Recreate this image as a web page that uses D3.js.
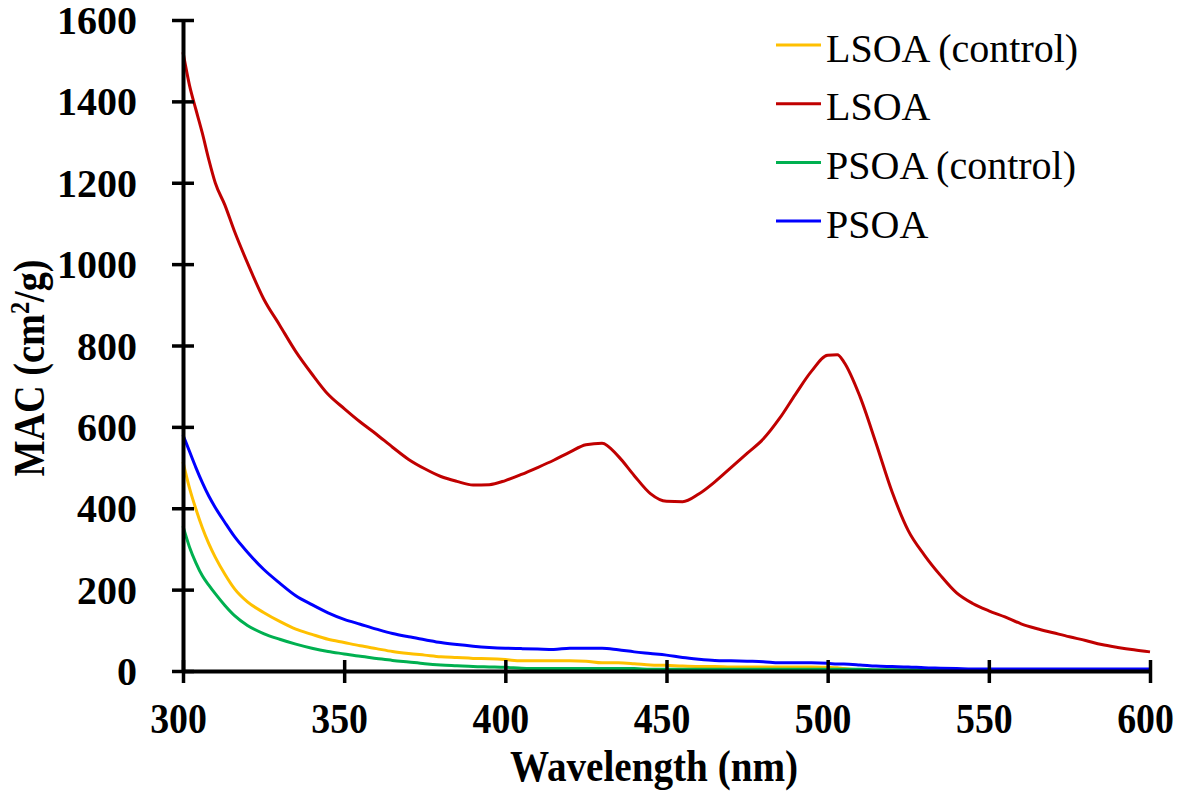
<!DOCTYPE html>
<html>
<head>
<meta charset="utf-8">
<script src="https://cdn.jsdelivr.net/npm/d3@7"></script>
<style>
  html, body { margin: 0; padding: 0; background: #fff; }
  svg { display: block; }
</style>
</head>
<body>
<svg id="chart" width="1185" height="792"></svg>
<script>
// wavelength grid (nm), shared by all four series
const WAVELENGTHS = [300, 302, 304, 306, 308, 310, 313, 316, 320, 325, 330, 335, 340, 345, 350,
  355, 360, 365, 370, 375, 380, 385, 390, 395, 400, 405, 410, 415, 420, 425, 430, 435, 440,
  445, 450, 455, 460, 465, 470, 475, 480, 485, 490, 495, 500, 503, 505, 510, 515, 520, 525,
  530, 535, 540, 545, 550, 555, 560, 565, 570, 575, 580, 585, 590, 595, 600]

// MAC values (cm2/g)
const LSOA_CONTROL = [514, 450, 398, 352, 313, 280, 238, 202, 170, 144, 122, 103, 90, 78, 70,
  62, 55, 48, 43, 39, 35, 33, 31, 30, 28, 25, 25, 25, 25, 24, 20, 20, 18,
  15, 14, 12, 11, 11, 10, 10, 10, 10, 10, 10, 9, 8, 6, 3, 2, 2, 2,
  2, 2, 2, 2, 2, 2, 2, 2, 2, 2, 1, 1, 1, 1, 1]
const LSOA = [1521, 1440, 1380, 1322, 1257, 1200, 1145, 1080, 1003, 915, 850, 785, 730, 680, 645,
  612, 582, 550, 520, 497, 478, 466, 457, 458, 468, 483, 500, 518, 538, 556, 560, 528, 480,
  436, 417, 416, 435, 465, 500, 535, 570, 620, 680, 737, 776, 777, 760, 675, 560, 440, 345,
  285, 235, 192, 166, 148, 133, 116, 104, 94, 84, 75, 65, 58, 52, 47]
const PSOA_CONTROL = [356, 305, 266, 234, 211, 190, 161, 136, 112, 92, 78, 66, 56, 48, 42,
  36, 31, 26, 22, 18, 15, 13, 11, 10, 9, 7, 6, 6, 6, 6, 6, 6, 6,
  4, 4, 4, 4, 4, 4, 4, 4, 4, 4, 4, 4, 4, 4, 4, 3, 3, 3,
  3, 3, 3, 3, 2, 2, 2, 2, 2, 2, 2, 2, 2, 2, 2]
const PSOA = [580, 540, 500, 463, 430, 402, 365, 330, 292, 250, 216, 185, 163, 143, 127,
  115, 103, 92, 84, 77, 70, 65, 61, 58, 56, 55, 54, 53, 56, 56, 56, 52, 47,
  43, 39, 33, 29, 26, 25, 24, 23, 20, 20, 20, 19, 17, 17, 15, 12, 11, 10,
  8, 7, 6, 5, 5, 5, 5, 5, 5, 5, 5, 5, 5, 5, 5]

const SERIES_NAMES = ["LSOA (control)", "LSOA", "PSOA (control)", "PSOA"]
const SERIES_VALUES = [LSOA_CONTROL, LSOA, PSOA_CONTROL, PSOA]
const SERIES_COLORS = ["#FFC000", "#C00000", "#00B050", "#0000FF"]

const X_TICKS = [300, 350, 400, 450, 500, 550, 600]
const Y_TICKS = [0, 200, 400, 600, 800, 1000, 1200, 1400, 1600]

const svg = d3.select("#chart")
svg.append("rect").attr("width", 1185).attr("height", 792).attr("fill", "#fff")

const x = d3.scaleLinear().domain([300, 600]).range([183, 1150])
const y = d3.scaleLinear().domain([0, 1600]).range([671, 20])

const FONT = "'Liberation Serif', 'Times New Roman', serif"

// lines
const line = d3.line()
  .x((d) => x(d[0]))
  .y((d) => y(d[1]))
  .curve(d3.curveMonotoneX)

SERIES_VALUES.forEach((vals, i) => {
  svg.append("path")
    .attr("fill", "none")
    .attr("stroke", SERIES_COLORS[i])
    .attr("stroke-width", 3)
    .attr("stroke-linejoin", "round")
    .attr("d", line(WAVELENGTHS.map((w, j) => [w, vals[j]])))
})

// x axis
const xAxis = svg.append("g")
  .attr("transform", `translate(0, ${y(0)})`)
  .call(d3.axisBottom(x).tickValues(X_TICKS).tickSize(11).tickSizeOuter(0).tickFormat(d3.format("d")))
xAxis.select(".domain").attr("stroke", "#000").attr("stroke-width", 4)
xAxis.selectAll(".tick line").attr("y1", -11).attr("y2", 12).attr("stroke", "#000").attr("stroke-width", 3.5)
xAxis.selectAll(".tick text")
  .attr("y", 0)
  .attr("dy", 0)
  .attr("transform", "translate(-5, 62) scale(0.9, 1)")
  .attr("fill", "#000")
  .attr("font-family", FONT)
  .attr("font-weight", "bold")
  .attr("font-size", 42)

// y axis
const yAxis = svg.append("g")
  .attr("transform", `translate(${x(300)}, 0)`)
  .call(d3.axisLeft(y).tickValues(Y_TICKS).tickSize(11).tickSizeOuter(0).tickFormat(d3.format("d")))
yAxis.select(".domain").attr("stroke", "#000").attr("stroke-width", 4)
yAxis.selectAll(".tick line").attr("x1", -11).attr("x2", 11).attr("stroke", "#000").attr("stroke-width", 3.5)
yAxis.selectAll(".tick text")
  .attr("x", -46)
  .attr("dy", "0.34em")
  .attr("fill", "#000")
  .attr("font-family", FONT)
  .attr("font-weight", "bold")
  .attr("font-size", 40)

// axis titles
svg.append("text")
  .attr("transform", "translate(654, 781) scale(0.89, 1)")
  .attr("text-anchor", "middle")
  .attr("font-family", FONT)
  .attr("font-weight", "bold")
  .attr("font-size", 44)
  .text("Wavelength (nm)")

const yTitle = svg.append("text")
  .attr("transform", "translate(44, 368) rotate(-90) scale(0.87, 1)")
  .attr("text-anchor", "middle")
  .attr("font-family", FONT)
  .attr("font-weight", "bold")
  .attr("font-size", 44)
yTitle.append("tspan").text("MAC (cm")
yTitle.append("tspan").attr("font-size", 28).attr("dy", -15).text("2")
yTitle.append("tspan").attr("dy", 15).text("/g)")

// legend
const legend = svg.append("g").attr("transform", "translate(776, 45)")
SERIES_NAMES.forEach((name, i) => {
  const g = legend.append("g").attr("transform", `translate(0, ${i * 58.7})`)
  g.append("line")
    .attr("x1", 0).attr("x2", 45)
    .attr("stroke", SERIES_COLORS[i])
    .attr("stroke-width", 3)
  g.append("text")
    .attr("x", 50)
    .attr("y", 16.5)
    .attr("font-family", FONT)
    .attr("font-size", 40)
    .attr("fill", "#000")
    .text(name)
})
</script>
</body>
</html>
